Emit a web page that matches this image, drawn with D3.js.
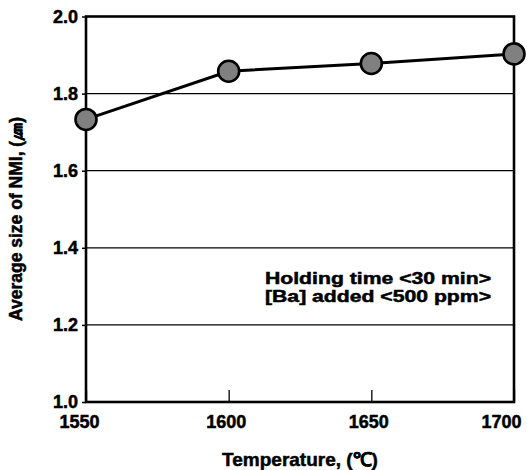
<!DOCTYPE html>
<html>
<head>
<meta charset="utf-8">
<script src="https://cdn.jsdelivr.net/npm/d3@7/dist/d3.min.js"></script>
<style>
  html, body { margin: 0; padding: 0; background: #fff; }
  svg { display: block; }
</style>
</head>
<body>
<svg id="chart" width="527" height="470"></svg>
<script>
// Average NMI size versus heating temperature
const temperatures = [1550, 1600, 1650, 1700];
const nmiSize = [1.733, 1.858, 1.878, 1.903];
const xTicks = [1550, 1600, 1650, 1700];
const yTicks = [1.0, 1.2, 1.4, 1.6, 1.8, 2.0];
const yTickLabels = ["1.0", "1.2", "1.4", "1.6", "1.8", "2.0"];
const noteLines = ["Holding time <30 min>", "[Ba] added <500 ppm>"];
const xTitle = "Temperature, (\u2103)";
const yTitle = "Average size of NMI, (\u339B)";

const FONT = "'Liberation Sans', Arial, Helvetica, sans-serif";

const svg = d3.select("#chart");
const plotLeft = 86, plotRight = 514, plotTop = 16.5, plotBottom = 402;

const x = d3.scaleLinear().domain([1550, 1700]).range([plotLeft, plotRight]);
const y = d3.scaleLinear().domain([1.0, 2.0]).range([plotBottom, plotTop]);

// heavy bold text, slightly stroked for a denser print look
function boldText(sel, size) {
  return sel
    .style("font-family", FONT)
    .style("font-weight", "700")
    .style("font-size", size + "px")
    .attr("fill", "#000")
    .attr("stroke", "#000")
    .attr("stroke-width", 0.5);
}

// horizontal grid lines
svg.append("g")
  .selectAll("line")
  .data(yTicks.filter(v => v > 1.0 && v < 2.0))
  .join("line")
  .attr("x1", plotLeft).attr("x2", plotRight)
  .attr("y1", d => y(d)).attr("y2", d => y(d))
  .attr("stroke", "#000").attr("stroke-width", 1.2);

// left axis: short outer ticks + labels
const yAxis = d3.axisLeft(y)
  .tickValues(yTicks)
  .tickSize(4)
  .tickPadding(4)
  .tickFormat((d, i) => yTickLabels[i]);
const gy = svg.append("g").attr("transform", `translate(${plotLeft},0)`).call(yAxis);
gy.select(".domain").remove();
gy.selectAll(".tick line").attr("stroke", "#000").attr("stroke-width", 1.5);
boldText(gy.selectAll(".tick text"), 18);

// bottom axis: inner ticks
const xAxis = d3.axisBottom(x)
  .tickValues(xTicks)
  .tickSize(-12)
  .tickFormat(d3.format("d"));
const gx = svg.append("g").attr("transform", `translate(0,${plotBottom})`).call(xAxis);
gx.select(".domain").remove();
gx.selectAll(".tick line").attr("stroke", "#000").attr("stroke-width", 1.3);
boldText(gx.selectAll(".tick text"), 18)
  .attr("y", 26)
  .attr("dy", 0)
  .attr("x", -3);
// keep the outer labels inside the drawing
gx.selectAll(".tick text").filter(d => d === xTicks[0])
  .attr("text-anchor", "start").attr("x", 59 - x(xTicks[0]));
gx.selectAll(".tick text").filter(d => d === xTicks[xTicks.length - 1])
  .attr("text-anchor", "end").attr("x", 521 - x(xTicks[xTicks.length - 1]));

// plot frame
svg.append("rect")
  .attr("x", plotLeft).attr("y", plotTop)
  .attr("width", plotRight - plotLeft).attr("height", plotBottom - plotTop)
  .attr("fill", "none").attr("stroke", "#000").attr("stroke-width", 2.6);

// data line and markers
const pts = temperatures.map((t, i) => [t, nmiSize[i]]);
svg.append("path")
  .datum(pts)
  .attr("fill", "none")
  .attr("stroke", "#000")
  .attr("stroke-width", 3)
  .attr("d", d3.line().x(d => x(d[0])).y(d => y(d[1])));

svg.append("g")
  .selectAll("circle")
  .data(pts)
  .join("circle")
  .attr("cx", d => x(d[0]))
  .attr("cy", d => y(d[1]))
  .attr("r", 10.5)
  .attr("fill", "#808080")
  .attr("stroke", "#000")
  .attr("stroke-width", 2.6);

// condition note
boldText(svg.append("g")
  .selectAll("text")
  .data(noteLines)
  .join("text"), 17)
  .attr("x", 265)
  .attr("y", (d, i) => 283.5 + i * 18.5)
  .attr("textLength", 226)
  .attr("lengthAdjust", "spacingAndGlyphs")
  .text(d => d);

// axis titles
boldText(svg.append("text"), 19)
  .attr("x", (plotLeft + plotRight) / 2)
  .attr("y", 466)
  .attr("text-anchor", "middle")
  .text(xTitle);

boldText(svg.append("text"), 17.5)
  .attr("transform", "translate(22,219) rotate(-90)")
  .attr("text-anchor", "middle")
  .text(yTitle);
</script>
</body>
</html>
